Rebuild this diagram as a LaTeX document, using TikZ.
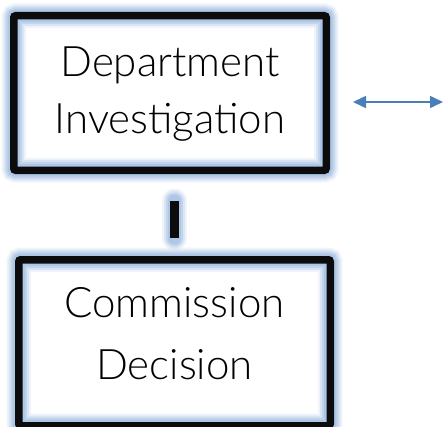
\documentclass[tikz,border=0pt]{standalone}
\usepackage{fontspec}
\setmainfont{Lato}[UprightFont=* Light]
\usetikzlibrary{arrows.meta}
\definecolor{glowc}{RGB}{150,182,222}
\definecolor{arrowc}{RGB}{74,126,187}
\definecolor{borderc}{RGB}{12,12,12}
\tikzset{
  glowline/.style={
    preaction={draw=glowc, line width=#1+17pt, opacity=0.15},
    preaction={draw=glowc, line width=#1+13pt, opacity=0.25},
    preaction={draw=glowc, line width=#1+9pt, opacity=0.35},
    preaction={draw=glowc, line width=#1+5pt, opacity=0.45}},
  boxshape/.style={draw=borderc, line width=7.5pt, rounded corners=2pt,
    glowline=7.5pt, inner sep=0pt, outer sep=0pt},
  boxtext/.style={align=center, font=\fontsize{42}{#1}\selectfont, inner sep=0pt},
  barline/.style={draw=borderc, line width=8.5pt,
    preaction={draw=glowc, line width=25pt, opacity=0.15, line cap=round},
    preaction={draw=glowc, line width=21pt, opacity=0.25, line cap=round},
    preaction={draw=glowc, line width=17pt, opacity=0.35, line cap=round},
    preaction={draw=glowc, line width=13pt, opacity=0.45, line cap=round}},
  arrowline/.style={draw=arrowc, line width=1.6pt,
    {Triangle[length=13pt,width=12pt]}-{Triangle[length=13pt,width=12pt]}}
}
\begin{document}
\begin{tikzpicture}[x=1pt,y=1pt]
\useasboundingbox (0,0) rectangle (443,426);
\node[boxshape, minimum width=312.5pt, minimum height=154.5pt] (dept) at (170,333) {};
\node[boxtext=57] (depttext) at (170,331.5) {Department\\Investigation};
\node[boxshape, minimum width=311.5pt, minimum height=166pt] (comm) at (174.5,83.25) {};
\node[boxtext=62] (commtext) at (174.5,92.25) {Commission\\Decision};
\coordinate (bartop) at (174.5,225);
\coordinate (barbot) at (174.5,188);
\draw[barline] (bartop) -- (barbot);
\coordinate (arrl) at (353,324);
\coordinate (arrr) at (443,324);
\draw[arrowline] (arrl) -- (arrr);
\end{tikzpicture}
\end{document}
